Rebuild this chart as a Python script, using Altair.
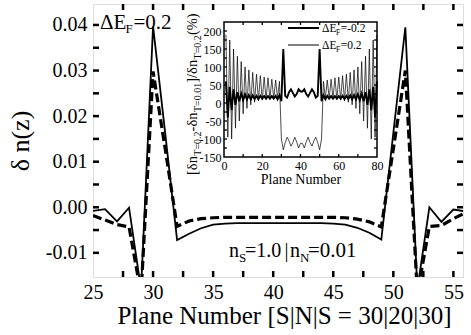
import altair as alt
import pandas as pd

FONT = "Liberation Serif"

# ---------------- main panel data ----------------
planes = list(range(25, 57))
solid_vals = [-0.0008, -0.0004, -0.0031, -0.0001, -0.0180, 0.0397, 0.0165, -0.0072,
              -0.0058, -0.0046, -0.0038, -0.0036, -0.0035, -0.0035, -0.0035, -0.0035,
              -0.0035, -0.0035, -0.0035, -0.0035, -0.0036, -0.0038, -0.0045, -0.0056,
              -0.0071, 0.0163, 0.0395, -0.0180, 0.0000, -0.0032, -0.0005, -0.0009]
dashed_vals = [-0.0018, -0.0028, -0.0038, -0.0043, -0.0190, 0.0298, 0.0130, -0.0042,
               -0.0030, -0.0025, -0.0023, -0.0022, -0.0022, -0.0022, -0.0022, -0.0022,
               -0.0022, -0.0022, -0.0022, -0.0022, -0.0022, -0.0023, -0.0026, -0.0032,
               -0.0043, 0.0128, 0.0300, -0.0190, -0.0042, -0.0040, -0.0025, -0.0012]

x_labels_main = [25, 30, 35, 40, 45, 50, 55]
x_ticks_main = [27.5, 30, 32.5, 35, 37.5, 40, 42.5, 45, 47.5, 50, 52.5, 55]
y_labels_main = [-0.01, 0.00, 0.01, 0.02, 0.03, 0.04]
y_ticks_main = [-0.01, -0.005, 0.0, 0.005, 0.01, 0.015, 0.02, 0.025, 0.03, 0.035, 0.04]

# ---------------- inset data ----------------
inset_planes = list(range(1, 81))
thick_vals = [60, -40, 45, -20, 38, -5, 30, 5, 26, 8,
              24, 10, 22, 10, 21, 11, 20, 11, 20, 12,
              19, 12, 19, 12, 19, 12, 20, 10, 22, 5,
              150, 20, 15, 30, 38, 28, 18, 25, 38, 32,
              32, 38, 25, 18, 28, 38, 30, 15, 20, 150,
              5, 22, 10, 20, 12, 19, 12, 19, 12, 19,
              12, 20, 11, 20, 11, 21, 10, 22, 10, 24,
              8, 26, 5, 30, -5, 38, -20, 45, -40, 60]
thin_vals = [190, -95, 175, -100, 150, -70, 130, -50, 115, -30,
             100, -15, 92, -5, 85, 2, 80, 6, 76, 8,
             72, 10, 70, 12, 66, 12, 64, 14, 60, -100,
             -130, -110, -95, -105, -120, -110, -95, -108, -125, -112,
             -112, -125, -108, -95, -110, -120, -105, -95, -110, -130,
             -100, 60, 14, 64, 12, 66, 12, 70, 10, 72,
             8, 76, 6, 80, 2, 85, -5, 92, -15, 100,
             -30, 115, -50, 130, -70, 150, -100, 175, -95, 190]
inset_x_domain = [0, 80]
inset_y_domain = [-150, 225]
inset_x_labels = [0, 20, 40, 60, 80]
inset_y_labels = [-150, -100, -50, 0, 50, 100, 150, 200]
inset_x_ticks = [10, 20, 30, 40, 50, 60, 70]
inset_y_ticks = [-125, -100, -75, -50, -25, 0, 25, 50, 75, 100, 125, 150, 175, 200]

# ---------------- layout ----------------
W, H = 370, 273
IX_RANGE = [131, 284]
IY_RANGE = [153, 18]

minus_fix = "replace(datum.label, '\u2212', '-')"

main_x = alt.X("x:Q", scale=alt.Scale(domain=[25, 55.8], nice=False, zero=False),
               axis=alt.Axis(values=x_labels_main, domain=False, ticks=False, grid=False,
                             labelFont=FONT, labelFontSize=20, labelPadding=5, labelColor="black",
                             labelFlush=False, labelOverlap=False,
                             title="Plane Number [S|N|S = 30|20|30]", titleFont=FONT,
                             titleFontSize=25, titleFontWeight="normal", titleColor="black",
                             titlePadding=1, titleX=191))
main_y = alt.Y("y:Q", scale=alt.Scale(domain=[-0.0153, 0.0446], nice=False, zero=False),
               axis=alt.Axis(values=y_labels_main, format=".2f", labelExpr=minus_fix,
                             domain=False, ticks=False, grid=False,
                             labelFont=FONT, labelFontSize=20, labelPadding=6, labelColor="black",
                             labelFlush=False, labelOverlap=False,
                             title="δ n(z)", titleFont=FONT, titleFontSize=26,
                             titleFontWeight="normal", titleColor="black", titlePadding=12))

solid = alt.Chart(pd.DataFrame({"x": planes, "y": solid_vals})).mark_line(
    color="black", strokeWidth=1.8, clip=True).encode(x=main_x, y=main_y)
dashed = alt.Chart(pd.DataFrame({"x": planes, "y": dashed_vals})).mark_line(
    color="black", strokeWidth=3.2, strokeDash=[9, 4], clip=True).encode(x=main_x, y=main_y)

xt_df = pd.DataFrame({"x": x_ticks_main})
yt_df = pd.DataFrame({"y": y_ticks_main})
tick_style = dict(color="black", strokeWidth=2.5)
xt_bot = alt.Chart(xt_df).mark_rule(**tick_style).encode(x=main_x, y=alt.value(H), y2=alt.value(H - 6))
xt_top = alt.Chart(xt_df).mark_rule(**tick_style).encode(x=main_x, y=alt.value(0), y2=alt.value(6))
yt_left = alt.Chart(yt_df).mark_rule(**tick_style).encode(y=main_y, x=alt.value(0), x2=alt.value(6))
yt_right = alt.Chart(yt_df).mark_rule(**tick_style).encode(y=main_y, x=alt.value(W), x2=alt.value(W - 6))


def txt(s, x, y, size, angle=None):
    kw = dict(font=FONT, fontSize=size, align="left", baseline="alphabetic", color="black")
    if angle is not None:
        kw["angle"] = angle
    return alt.Chart(pd.DataFrame({"t": [s]})).mark_text(**kw).encode(
        x=alt.value(x), y=alt.value(y), text="t:N")


main_texts = [
    txt("ΔE", 7, 25, 21), txt("F", 32.5, 29, 13), txt("=0.2", 40.5, 25, 21),
    txt("n", 136, 253, 20), txt("S", 146, 258, 13), txt("=1.0", 152, 253, 20),
    txt("|", 191.5, 253, 20), txt("n", 197, 253, 20), txt("N", 207, 258, 13),
    txt("=0.01", 215, 253, 21),
]

main = alt.layer(solid, dashed, xt_bot, xt_top, yt_left, yt_right, *main_texts)

# ---------------- inset ----------------
inset_x = alt.X("ix:Q", scale=alt.Scale(domain=inset_x_domain, range=IX_RANGE, nice=False, zero=False),
                axis=alt.Axis(orient="bottom", offset=IY_RANGE[0] - H, values=inset_x_labels,
                              domain=False, ticks=False, grid=False, labelFont=FONT,
                              labelFontSize=12, labelPadding=3, labelColor="black",
                              labelFlush=False, labelOverlap=False,
                              title="Plane Number", titleFont=FONT, titleFontSize=14,
                              titleFontWeight="normal", titleColor="black", titlePadding=1))
inset_y = alt.Y("iy:Q", scale=alt.Scale(domain=inset_y_domain, range=IY_RANGE, nice=False, zero=False),
                axis=alt.Axis(orient="left", offset=-IX_RANGE[0], values=inset_y_labels,
                              labelExpr=minus_fix, domain=False, ticks=False, grid=False,
                              labelFont=FONT, labelFontSize=12, labelPadding=3, labelColor="black",
                              labelFlush=False, labelOverlap=False, title=None))

frame = alt.Chart(pd.DataFrame({"ix": [inset_x_domain[0]], "ix2": [inset_x_domain[1]],
                                "iy": [inset_y_domain[0]], "iy2": [inset_y_domain[1]]})).mark_rect(
    fill="white", stroke="black", strokeWidth=1.5).encode(x=inset_x, x2="ix2:Q", y=inset_y, y2="iy2:Q")

thin_line = alt.Chart(pd.DataFrame({"ix": inset_planes, "iy": thin_vals})).mark_line(
    color="black", strokeWidth=0.7).encode(x=inset_x, y=inset_y)
thick_line = alt.Chart(pd.DataFrame({"ix": inset_planes, "iy": thick_vals})).mark_line(
    color="black", strokeWidth=1.9).encode(x=inset_x, y=inset_y)

ixt_df = pd.DataFrame({"ix": inset_x_ticks})
iyt_df = pd.DataFrame({"iy": inset_y_ticks})
itick = dict(color="black", strokeWidth=1.3)
ixt_bot = alt.Chart(ixt_df).mark_rule(**itick).encode(x=inset_x, y=alt.value(IY_RANGE[0]), y2=alt.value(IY_RANGE[0] - 3))
ixt_top = alt.Chart(ixt_df).mark_rule(**itick).encode(x=inset_x, y=alt.value(IY_RANGE[1]), y2=alt.value(IY_RANGE[1] + 3))
iyt_left = alt.Chart(iyt_df).mark_rule(**itick).encode(y=inset_y, x=alt.value(IX_RANGE[0]), x2=alt.value(IX_RANGE[0] + 3))
iyt_right = alt.Chart(iyt_df).mark_rule(**itick).encode(y=inset_y, x=alt.value(IX_RANGE[1]), x2=alt.value(IX_RANGE[1] - 3))

one = pd.DataFrame({"a": [0]})
leg_thick = alt.Chart(one).mark_rule(color="black", strokeWidth=2).encode(
    x=alt.value(195), x2=alt.value(226), y=alt.value(24))
leg_thin = alt.Chart(one).mark_rule(color="black", strokeWidth=1).encode(
    x=alt.value(195), x2=alt.value(226), y=alt.value(41))

inset_texts = [
    txt("ΔE", 229, 28, 11.5), txt("F", 243, 31, 7.5), txt("=-0.2", 247.7, 28, 11.5),
    txt("ΔE", 229, 45, 11.5), txt("F", 243, 48, 7.5), txt("=0.2", 247.7, 45, 11.5),
    # rotated y title of the inset
    txt("[δn", 104, 171, 14.5, 270), txt("T=0.2", 108, 151.7, 10, 270),
    txt("-δn", 104, 127.4, 14.5, 270), txt("T=0.01", 108, 108.1, 10, 270),
    txt("]/δn", 104, 78.8, 14.5, 270), txt("T=0.2", 108, 55.4, 10, 270),
    txt(" (%)", 104, 31.1, 14.5, 270),
]

inset = alt.layer(frame, thin_line, thick_line, ixt_bot, ixt_top, iyt_left, iyt_right,
                  leg_thick, leg_thin, *inset_texts)

chart = alt.layer(main, inset).resolve_scale(x="independent", y="independent").properties(
    width=W, height=H,
    padding={"left": 93, "top": 4, "right": 8, "bottom": 58},
    autosize=alt.AutoSizeParams(type="none"),
).configure_view(stroke="black", strokeWidth=3).configure(background="white")

chart.save("out.html", embed_options={"renderer": "svg", "actions": False})
